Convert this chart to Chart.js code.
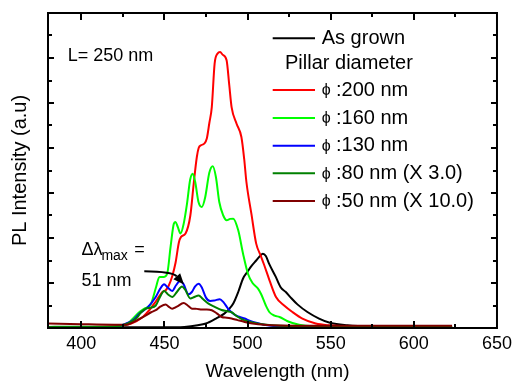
<!DOCTYPE html>
<html>
<head>
<meta charset="utf-8">
<script src="https://cdn.jsdelivr.net/npm/chart.js@4/dist/chart.umd.min.js"></script>
<style>
  html, body { margin: 0; padding: 0; background: #fff; }
  canvas { display: block; }
</style>
</head>
<body>
<canvas id="c" width="517" height="383"></canvas>
<script>
// ---- Data ----
const xTickValues = [400, 450, 500, 550, 600, 650];

const asGrownX = [380, 420, 450, 462, 470, 475, 481, 486, 489, 491.5, 494.4, 497.3, 500, 502.3, 505.2, 507.5, 509.2, 511, 513, 517, 520, 523, 526, 530, 536, 543, 550, 560, 575, 600, 623];
const asGrownY = [0.03, 0.03, 0.03, 0.05, 0.12, 0.2, 0.42, 0.64, 0.85, 1.1, 1.6, 2.2, 2.5, 2.75, 3.0, 3.2, 3.3, 3.2, 2.85, 2.27, 1.8, 1.6, 1.35, 1.05, 0.71, 0.42, 0.22, 0.12, 0.06, 0.04, 0.03];

const d200X = [380, 400, 420, 430, 437, 441, 445, 448.8, 450.8, 452.7, 454.7, 456.7, 458.7, 460, 462.7, 465.6, 467.6, 469.5, 470.6, 472, 474, 475.5, 477, 478.5, 480.2, 482, 483.5, 485, 487.4, 489, 490.4, 493.4, 496.3, 498, 499.3, 502.3, 505.2, 508, 510, 513.2, 517.1, 522, 527, 533, 541, 549, 560, 580, 600, 623];
const d200Y = [0.05, 0.05, 0.08, 0.2, 0.49, 0.8, 1.2, 1.6, 1.68, 1.9, 2.3, 2.9, 3.8, 4.05, 4.2, 5.0, 6.4, 7.6, 8.0, 8.12, 8.2, 8.42, 9.1, 9.82, 11.75, 12.2, 12.27, 12.15, 11.9, 10.8, 9.82, 9.08, 8.49, 7.5, 6.5, 5.08, 3.75, 3.2, 2.8, 2.12, 1.38, 1.0, 0.71, 0.42, 0.2, 0.12, 0.08, 0.06, 0.05, 0.05];

const d160X = [380, 420, 428, 432, 435, 438, 442, 445, 447, 449.8, 451.7, 453.7, 455.7, 456.7, 458, 459.7, 461.5, 463.6, 465.5, 467, 468.5, 470.5, 472.5, 474.5, 477, 479.1, 481, 483, 485.4, 487.4, 489.5, 491.4, 494.4, 497.3, 500.3, 503, 506.3, 508.2, 511, 513.2, 516.2, 519.2, 524.1, 531, 540, 560, 600, 623];
const d160Y = [0.03, 0.05, 0.2, 0.49, 0.71, 0.86, 1.08, 1.82, 2.27, 2.27, 2.42, 3.6, 4.64, 4.71, 4.5, 4.2, 4.6, 5.53, 6.6, 6.86, 6.5, 5.6, 5.38, 5.8, 6.9, 7.19, 6.7, 5.6, 5.0, 4.79, 4.85, 4.86, 4.34, 3.3, 2.4, 2.0, 1.75, 1.5, 1.0, 0.7, 0.55, 0.49, 0.3, 0.14, 0.07, 0.05, 0.04, 0.04];

const d130X = [380, 420, 427, 431, 435, 440, 444.8, 447.5, 449.8, 452, 454.7, 457, 459.5, 461.5, 464.5, 466.5, 468.5, 470.6, 472.5, 475, 477.5, 480, 483.3, 485.5, 488.4, 492, 495, 498.3, 502, 506, 512, 520, 540, 623];
const d130Y = [0.02, 0.04, 0.2, 0.34, 0.64, 0.93, 1.38, 1.75, 1.95, 1.8, 1.65, 1.9, 2.1, 1.95, 1.5, 1.6, 1.85, 1.97, 1.8, 1.35, 1.2, 1.22, 1.28, 1.15, 0.85, 0.6, 0.5, 0.42, 0.3, 0.22, 0.12, 0.06, 0.03, 0.02];

const d80X = [380, 420, 428, 433, 436, 438.9, 441.5, 444.8, 447.5, 449.8, 452, 454.7, 457.5, 460.6, 462.5, 465.6, 468, 470.6, 473, 476.5, 480, 484.4, 487.5, 490.4, 494, 498.3, 503, 510, 520, 540, 623];
const d80Y = [0.05, 0.07, 0.2, 0.42, 0.7, 0.86, 0.9, 1.0, 1.4, 1.65, 1.5, 1.38, 1.6, 1.85, 1.7, 1.31, 1.38, 1.45, 1.3, 1.08, 0.95, 0.8, 0.75, 0.7, 0.5, 0.34, 0.25, 0.16, 0.1, 0.07, 0.05];

const d50X = [380, 400, 420, 427, 431, 435, 438.9, 442, 444.8, 447.5, 450.8, 452.5, 454.7, 457.5, 461.6, 464, 466.6, 469.5, 472.5, 475.5, 478.5, 481.5, 484.4, 487.5, 490.4, 494, 498.3, 503, 510, 520, 540, 580, 623];
const d50Y = [0.2, 0.17, 0.15, 0.15, 0.25, 0.4, 0.56, 0.7, 0.79, 0.95, 1.05, 0.95, 0.86, 0.95, 1.11, 1.0, 0.86, 0.85, 0.82, 0.82, 0.79, 0.65, 0.49, 0.46, 0.42, 0.35, 0.27, 0.2, 0.14, 0.11, 0.1, 0.1, 0.1];

const seriesNames = ['As grown', 'ϕ :200 nm', 'ϕ :160 nm', 'ϕ :130 nm', 'ϕ :80 nm (X 3.0)', 'ϕ :50 nm (X 10.0)'];
const seriesColors = ['#000000', '#ff0000', '#00ff00', '#0000ff', '#008000', '#800000'];

// ---- build datasets ----
function pts(xs, ys) { return xs.map((x, i) => ({ x: x, y: ys[i] })); }
const seriesX = [asGrownX, d200X, d160X, d130X, d80X, d50X];
const seriesY = [asGrownY, d200Y, d160Y, d130Y, d80Y, d50Y];
const drawOrder = [5, 4, 3, 2, 1, 0];

const datasets = seriesNames.map((n, i) => ({
  label: n,
  data: pts(seriesX[i], seriesY[i]),
  borderColor: seriesColors[i],
  backgroundColor: seriesColors[i],
  borderWidth: 2,
  pointRadius: 0,
  fill: false,
  cubicInterpolationMode: 'monotone',
  order: drawOrder[i]
}));

Chart.defaults.font.family = "'Liberation Sans', Arial, Helvetica, sans-serif";
Chart.defaults.color = '#000';

const FONT = "'Liberation Sans', Arial, sans-serif";

const framePlugin = {
  id: 'frame',
  afterDatasetsDraw(chart) {
    const { ctx, chartArea: a, scales: { x, y } } = chart;
    ctx.save();
    ctx.strokeStyle = '#000';
    ctx.lineWidth = 2;
    ctx.strokeRect(a.left, a.top, a.right - a.left, a.bottom - a.top);
    // inward ticks
    ctx.beginPath();
    for (let v = 400; v < 650; v += 25) {
      const px = Math.round(x.getPixelForValue(v));
      const len = (v % 50 === 0) ? 7 : 4;
      ctx.moveTo(px, a.bottom); ctx.lineTo(px, a.bottom - len);
      ctx.moveTo(px, a.top); ctx.lineTo(px, a.top + len);
    }
    for (let v = 1; v < 14; v += 1) {
      const py = Math.round(y.getPixelForValue(v));
      const len = (v % 2 === 0) ? 6 : 4;
      ctx.moveTo(a.left, py); ctx.lineTo(a.left + len, py);
      ctx.moveTo(a.right, py); ctx.lineTo(a.right - len, py);
    }
    ctx.stroke();
    ctx.restore();
  },
  afterDraw(chart) {
    const { ctx, chartArea: a, scales: { x, y } } = chart;
    const X = v => x.getPixelForValue(v), Y = v => y.getPixelForValue(v);
    ctx.save();
    ctx.fillStyle = '#000';

    // axis titles
    ctx.font = '19px ' + FONT;
    ctx.textAlign = 'center';
    ctx.textBaseline = 'alphabetic';
    ctx.fillText('Wavelength (nm)', (a.left + a.right) / 2 + 5, 376.5);
    ctx.save();
    ctx.translate(20, (a.top + a.bottom) / 2);
    ctx.rotate(-Math.PI / 2);
    ctx.font = '20px ' + FONT;
    ctx.textBaseline = 'middle';
    ctx.fillText('PL Intensity (a.u)', 0, 0);
    ctx.restore();

    ctx.textBaseline = 'alphabetic';
    ctx.textAlign = 'left';
    // L= 250 nm
    ctx.font = '18px ' + FONT;
    ctx.fillText('L= 250 nm', X(391.9), Y(11.85));
    // delta lambda max
    ctx.fillText('Δλ', X(400.2), Y(3.23));
    ctx.font = '14px ' + FONT;
    ctx.fillText('max', X(412.1), Y(3.01));
    ctx.font = '18px ' + FONT;
    ctx.fillText('=', X(431.9), Y(3.23));
    ctx.fillText('51 nm', X(400.2), Y(1.85));
    // arrow
    const sx = X(437.9), sy = Y(2.52);
    const cx = X(455), cy = Y(2.5);
    const tx = X(461.8), ty = Y(1.93);
    const ang = Math.atan2(ty - cy, tx - cx);
    const hl = 11, hw = 4.5;
    const bx = tx - hl * Math.cos(ang), by = ty - hl * Math.sin(ang);
    ctx.strokeStyle = '#000';
    ctx.lineWidth = 2;
    ctx.beginPath();
    ctx.moveTo(sx, sy);
    ctx.quadraticCurveTo(cx, cy, bx, by);
    ctx.stroke();
    ctx.beginPath();
    ctx.moveTo(tx, ty);
    ctx.lineTo(bx + hw * Math.sin(ang), by - hw * Math.cos(ang));
    ctx.lineTo(bx - hw * Math.sin(ang), by + hw * Math.cos(ang));
    ctx.closePath();
    ctx.fill();

    // legend
    const rowsY = [38.3, 63.3, 90, 118, 145.7, 173.3, 201];
    const lineX0 = 272.7, lineX1 = 315, textX = 321.7;
    ctx.textBaseline = 'middle';
    ctx.font = '20px ' + FONT;
    const rows = [
      { label: seriesNames[0], color: seriesColors[0] },
      { label: 'Pillar diameter', color: null },
      { label: seriesNames[1], color: seriesColors[1] },
      { label: seriesNames[2], color: seriesColors[2] },
      { label: seriesNames[3], color: seriesColors[3] },
      { label: seriesNames[4], color: seriesColors[4] },
      { label: seriesNames[5], color: seriesColors[5] }
    ];
    rows.forEach((r, i) => {
      const yy = rowsY[i];
      if (r.color) {
        ctx.strokeStyle = r.color;
        ctx.lineWidth = 2;
        ctx.beginPath();
        ctx.moveTo(lineX0, yy); ctx.lineTo(lineX1, yy);
        ctx.stroke();
        if (r.label.startsWith('ϕ')) {
          ctx.font = '16px ' + FONT;
          ctx.fillText('ϕ', textX, yy + 1);
          ctx.font = '20px ' + FONT;
          ctx.fillText(r.label.slice(1).trim(), 336, yy);
        } else {
          ctx.fillText(r.label, textX, yy);
        }
      } else {
        ctx.fillText(r.label, 285, yy);
      }
    });
    ctx.restore();
  }
};

new Chart(document.getElementById('c'), {
  type: 'line',
  data: { datasets: datasets },
  options: {
    responsive: false,
    animation: false,
    events: [],
    layout: { padding: { top: 13, right: 15, left: 0, bottom: 0 } },
    plugins: { legend: { display: false }, tooltip: { enabled: false } },
    scales: {
      x: {
        type: 'linear',
        min: 380, max: 650,
        afterBuildTicks(s) { s.ticks = xTickValues.map(v => ({ value: v })); },
        ticks: { font: { size: 18 }, color: '#000', padding: 5, maxRotation: 0, autoSkip: false },
        grid: { display: false, drawTicks: false },
        border: { display: false },
        title: { display: false },
        afterFit(s) { s.height = 55; }
      },
      y: {
        type: 'linear',
        min: 0, max: 14,
        ticks: { display: false },
        grid: { display: false, drawTicks: false },
        border: { display: false },
        title: { display: false },
        afterFit(s) { s.width = 48; }
      }
    }
  },
  plugins: [framePlugin]
});
</script>
</body>
</html>
